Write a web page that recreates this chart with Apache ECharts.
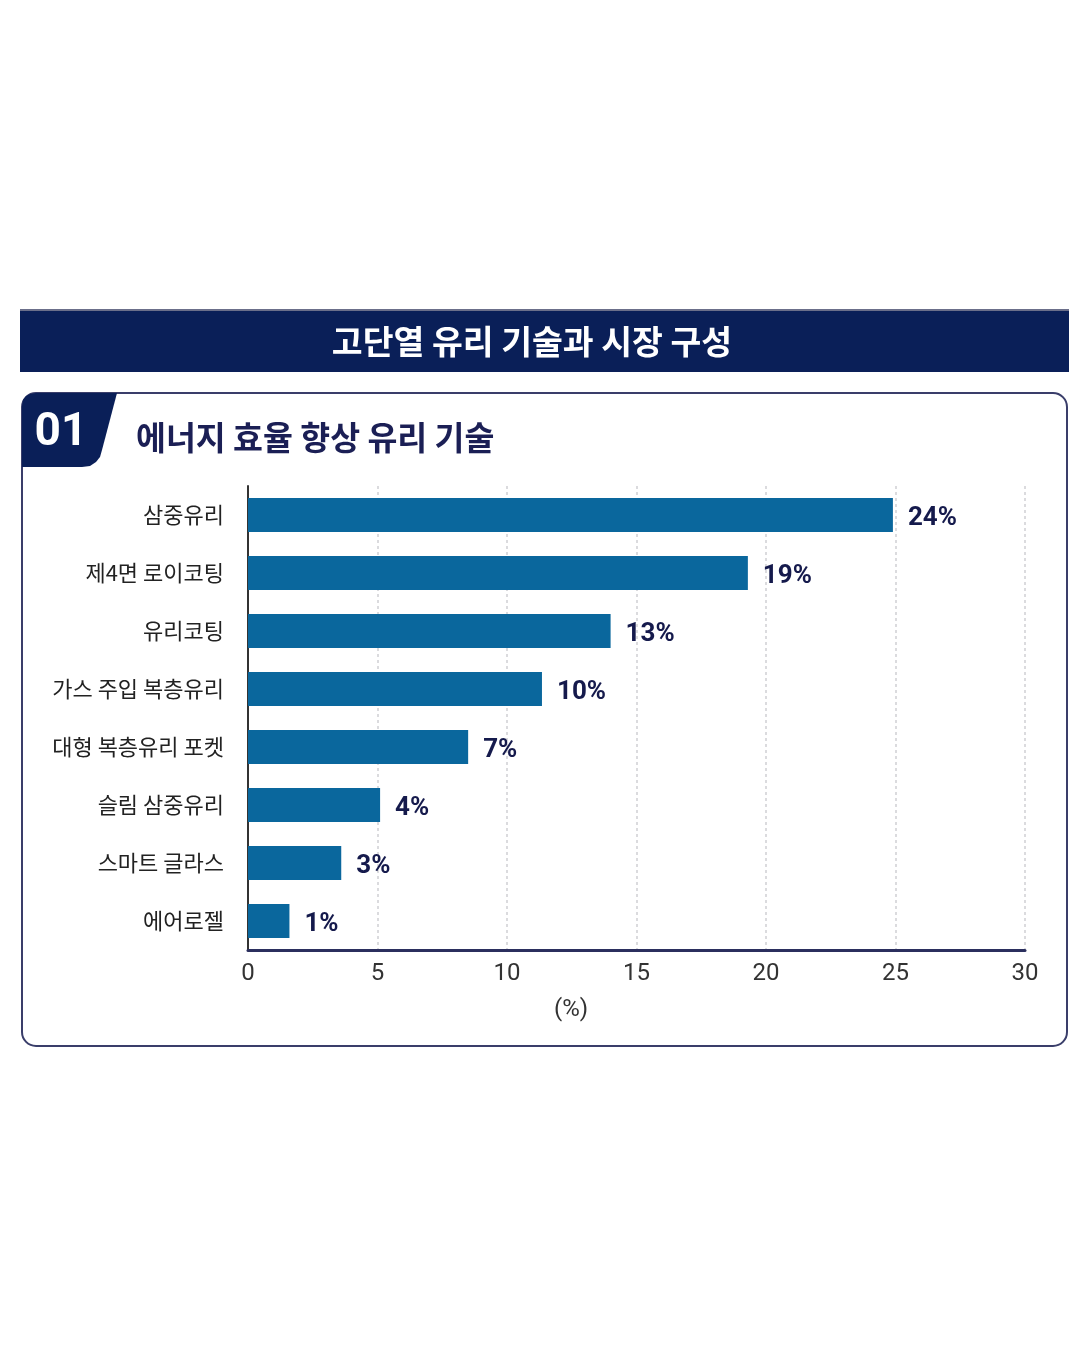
<!DOCTYPE html>
<html>
<head>
<meta charset="utf-8">
<style>
  html, body { margin: 0; padding: 0; background: #fff; }
  #chart { width: 1081px; height: 1351px; }
</style>
<script src="https://cdn.jsdelivr.net/npm/echarts@6/dist/echarts.min.js"></script>
</head>
<body>
<div id="chart"></div>
<script>
// 카테고리 (위에서 아래로)
var categories = ['삼중유리', '제4면 로이코팅', '유리코팅', '가스 주입 복층유리', '대형 복층유리 포켓', '슬림 삼중유리', '스마트 글라스', '에어로젤'];
// 막대 길이
var barValues = [24.9, 19.3, 14.0, 11.35, 8.5, 5.1, 3.6, 1.6];
// 막대 옆 라벨
var barLabels = ['24%', '19%', '13%', '10%', '7%', '4%', '3%', '1%'];
var xTicks = [0, 30, 5]; // min, max, interval

var NAVY = '#0a1f58';
var KR = '"Noto Sans CJK KR", "Noto Sans", sans-serif';
var NUM = 'Roboto, sans-serif';

var chart = echarts.init(document.getElementById('chart'));

var option = {
  backgroundColor: '#ffffff',
  animation: false,
  grid: { left: 248, top: 486, width: 777, height: 464, containLabel: false },
  xAxis: {
    type: 'value',
    min: xTicks[0],
    max: xTicks[1],
    interval: xTicks[2],
    axisLine: { show: true, lineStyle: { color: '#2b2f5e', width: 3 } },
    axisTick: { show: false },
    axisLabel: { color: '#333', fontSize: 24, fontFamily: NUM, margin: 12 },
    splitLine: { show: true, lineStyle: { color: '#cfcfd4', type: [3, 3], width: 1.5 } }
  },
  yAxis: {
    type: 'category',
    data: categories,
    inverse: true,
    axisLine: { show: true, lineStyle: { color: '#333', width: 2 } },
    axisTick: { show: false },
    axisLabel: { color: '#222', fontSize: 22, fontFamily: KR, margin: 24 }
  },
  series: [{
    type: 'bar',
    data: barValues,
    barWidth: 34,
    itemStyle: { color: '#0a679d' },
    label: {
      show: true,
      position: 'right',
      distance: 15,
      offset: [0, 3],
      color: '#151a4c',
      fontSize: 26,
      fontWeight: 'bold',
      fontFamily: NUM,
      formatter: function (p) { return barLabels[p.dataIndex]; }
    }
  }],
  graphic: [
    // 상단 배너
    { type: 'rect', shape: { x: 20, y: 310, width: 1049, height: 62 }, style: { fill: NAVY }, z: 1 },
    { type: 'rect', shape: { x: 20, y: 309, width: 1049, height: 2 }, style: { fill: '#6b6f8a' }, z: 1 },
    { type: 'text', x: 532, y: 341, z: 2,
      style: { text: '고단열 유리 기술과 시장 구성', fill: '#fff', fontSize: 33.5, fontWeight: 'bold', fontFamily: KR, textAlign: 'center', textVerticalAlign: 'middle' } },
    // 카드 테두리
    { type: 'rect', shape: { x: 22, y: 393, width: 1045, height: 653, r: 14 }, style: { fill: 'none', stroke: '#3a3e6a', lineWidth: 2 }, z: 1 },
    // 01 탭
    { type: 'polygon', z: 2,
      shape: { points: [[22, 467], [22, 406], [23, 400], [26, 396], [30, 394], [36, 393], [117, 393], [102, 450], [100, 457], [96, 462], [90, 466], [82, 467]] },
      style: { fill: NAVY } },
    { type: 'text', x: 61, y: 433, z: 3,
      style: { text: '01', fill: '#fff', fontSize: 46, fontWeight: 'bold', fontFamily: NUM, textAlign: 'center', textVerticalAlign: 'middle' } },
    { type: 'text', x: 136, y: 438, z: 3,
      style: { text: '에너지 효율 향상 유리 기술', fill: '#1b1f55', fontSize: 32.5, fontWeight: 'bold', fontFamily: KR, textAlign: 'left', textVerticalAlign: 'middle' } },
    // 축 단위
    { type: 'text', x: 571, y: 1010, z: 3,
      style: { text: '(%)', fill: '#333', fontSize: 24, fontFamily: NUM, textAlign: 'center', textVerticalAlign: 'middle' } }
  ]
};

chart.setOption(option);
</script>
</body>
</html>
